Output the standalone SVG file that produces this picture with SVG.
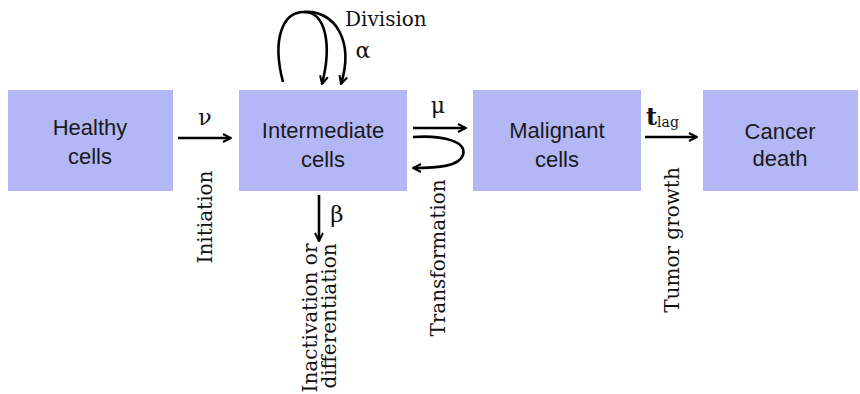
<svg xmlns="http://www.w3.org/2000/svg" width="860" height="394" viewBox="0 0 860 394">
<defs>
<style>
.box{fill:#b3b7f6;}
.lbl{font-family:"Liberation Sans",Arial,sans-serif;font-size:22px;fill:#1a1a1a;text-anchor:middle;}
.ser{font-family:"DejaVu Serif","Liberation Serif",serif;font-size:20px;fill:#111;}
.mid{text-anchor:middle;}
.ln{fill:none;stroke:#000;stroke-width:2.6;}
</style>
<marker id="ah" viewBox="0 0 10 10" refX="9" refY="5" markerWidth="10" markerHeight="10" markerUnits="userSpaceOnUse" orient="auto">
<polyline points="1,1 9,5 1,9" fill="none" stroke="#000" stroke-width="2"/>
</marker>
</defs>
<rect width="860" height="394" fill="#fff"/>
<g id="healthy"><rect class="box" x="8" y="90" width="165" height="101"/><text class="lbl" x="90" y="135">Healthy</text><text class="lbl" x="90" y="164">cells</text></g>
<g id="intermediate"><rect class="box" x="239" y="90" width="168" height="101"/><text class="lbl" x="323" y="138">Intermediate</text><text class="lbl" x="323" y="167">cells</text></g>
<g id="malignant"><rect class="box" x="473" y="90" width="168" height="101"/><text class="lbl" x="557" y="138">Malignant</text><text class="lbl" x="557" y="167">cells</text></g>
<g id="cancer"><rect class="box" x="703" y="90" width="155" height="101"/><text class="lbl" x="780" y="139">Cancer</text><text class="lbl" x="780" y="166">death</text></g>
<g id="connectors">
<path class="ln" d="M178,138 H231" marker-end="url(#ah)"/>
<path class="ln" d="M283,82 C272,40 282,12 304,12 C326,12 332,45 322,84" marker-end="url(#ah)"/>
<path class="ln" d="M304,12 C336,10 354,42 341,84" marker-end="url(#ah)"/>
<path class="ln" d="M319,195 V241" marker-end="url(#ah)"/>
<path class="ln" d="M413,128 H466" marker-end="url(#ah)"/>
<path class="ln" d="M413,137 C445,135 467,142 463,155 C459,166 440,168 413,168" marker-end="url(#ah)"/>
<path class="ln" d="M645,137 H697" marker-end="url(#ah)"/>
</g>
<g id="labels">
<text class="ser mid" x="205" y="125" style="font-size:22px">ν</text>
<text class="ser mid" transform="translate(212,217) rotate(-90)">Initiation</text>
<text class="ser" x="345" y="26">Division</text>
<text class="ser mid" x="363" y="58" style="font-size:22px">α</text>
<text class="ser mid" x="337" y="222" style="font-size:23px">β</text>
<text class="ser mid" transform="translate(317,318) rotate(-90)">Inactivation or</text>
<text class="ser mid" transform="translate(336,316) rotate(-90)">differentiation</text>
<text class="ser mid" x="438" y="113" style="font-size:22px">μ</text>
<text class="ser mid" transform="translate(445,258) rotate(-90)">Transformation</text>
<text class="ser" x="646" y="125" style="font-size:24px;font-weight:bold">t<tspan style="font-size:14px;font-weight:normal" dy="2">lag</tspan></text>
<text class="ser mid" transform="translate(679,240) rotate(-90)">Tumor growth</text>
</g>
</svg>
